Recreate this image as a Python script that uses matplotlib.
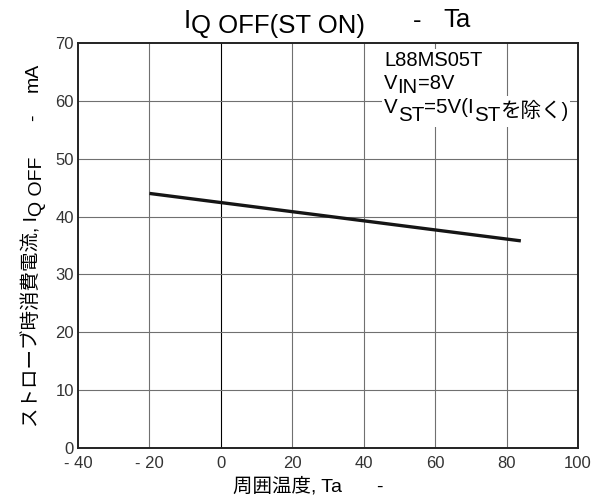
import matplotlib
matplotlib.use("Agg")
import matplotlib.pyplot as plt
from matplotlib.patches import Rectangle

# ---- data -------------------------------------------------------------
temps = [-20, 84]                 # ambient temperature Ta [deg C]
iq_off = [44.0, 35.8]             # strobe-mode supply current [mA]

xticks = [-40, -20, 0, 20, 40, 60, 80, 100]
xticklabels = ["- 40", "- 20", "0", "20", "40", "60", "80", "100"]
yticks = [0, 10, 20, 30, 40, 50, 60, 70]
yticklabels = ["0", "10", "20", "30", "40", "50", "60", "70"]

FAM = ["Liberation Sans", "Noto Sans CJK JP"]
plt.rcParams["font.family"] = FAM

W, H = 601, 500
fig = plt.figure(figsize=(W / 100, H / 100), dpi=100)
ax = fig.add_axes([78 / W, 1 - 448 / H, 500 / W, 405 / H])

ax.set_xlim(-40, 100)
ax.set_ylim(0, 70)

# grid drawn as plain lines (the 0 degC line is black)
for x in xticks[1:-1]:
    ax.axvline(x, color="#000000" if x == 0 else "#707070", lw=0.8, zorder=1)
for y in yticks[1:-1]:
    ax.axhline(y, color="#707070", lw=0.8, zorder=1)

ax.plot(temps, iq_off, color="#151515", lw=2.4, solid_capstyle="butt", zorder=3)

ax.set_xticks(xticks)
ax.set_xticklabels(xticklabels, fontsize=12, color="#333333")
ax.set_yticks(yticks)
ax.set_yticklabels(yticklabels, fontsize=12, color="#333333")
ax.tick_params(axis="both", length=0)
ax.tick_params(axis="x", pad=5.5)
ax.tick_params(axis="y", pad=3)
for sp in ax.spines.values():
    sp.set_linewidth(1.4)
    sp.set_color("#222222")

renderer = fig.canvas.get_renderer()


def measure(s, size):
    t = fig.text(0, 0, s, fontsize=size)
    w = t.get_window_extent(renderer).width
    t.remove()
    return w


def run(parts, x0, y0, size, rotate=False, color="black"):
    """Lay out text pieces one after another; y0 is a top-down pixel
    baseline, each part is (text, baseline shift, gap before)."""
    arts = []
    if not rotate:
        x = x0
        for s, dy, gap in parts:
            x += gap
            t = fig.text(x / W, 1 - (y0 + dy) / H, s, fontsize=size,
                         ha="left", va="baseline", color=color, zorder=4)
            arts.append(t)
            x += measure(s, size)
    else:
        y = y0
        for s, dy, gap in parts:
            y -= gap
            t = fig.text((x0 + dy) / W, 1 - y / H, s, fontsize=size,
                         rotation=90, rotation_mode="anchor",
                         ha="left", va="baseline", color=color, zorder=4)
            arts.append(t)
            y -= measure(s, size)
    return arts


def backdrop(arts, pad=2):
    bbs = [a.get_window_extent(renderer) for a in arts]
    x0 = min(b.x0 for b in bbs) - pad
    x1 = max(b.x1 for b in bbs) + pad
    y0 = min(b.y0 for b in bbs) - pad
    y1 = max(b.y1 for b in bbs) + pad
    r = Rectangle((x0 / W, y0 / H), (x1 - x0) / W, (y1 - y0) / H,
                  transform=fig.transFigure, facecolor="white",
                  edgecolor="none", zorder=2)
    fig.patches.append(r)


# title
run([("I", 0, 0), ("Q OFF(ST ON)", 5, 0), ("-", 0, 48), ("Ta", -1, 22)],
    184, 28, 18.5)

# conditions
l1 = run([("L88MS05T", 0, 0)], 384, 66, 14.5)
l2 = run([("V", 0, 0), ("IN", 4, 0), ("=8V", 0, 0)], 384, 89, 14.5)
l3 = run([("V", 0, 0), ("ST", 8, 0), ("=5V(I", 0, 0), ("ST", 8, 0),
          ("を除く)", 4, 0)], 384, 113, 14.8)
backdrop(l1 + l2)
backdrop(l3)

# y label
run([("ストローブ時消費電流, I", 0, 0), ("Q OFF", 4, 0), ("-", 0, 36),
     ("mA", 0, 22)], 38, 427, 14, rotate=True)

# x label
run([("周囲温度, Ta", 0, 0), ("-", 0, 34)], 233, 492, 14)

fig.savefig("out.png", dpi=100)
